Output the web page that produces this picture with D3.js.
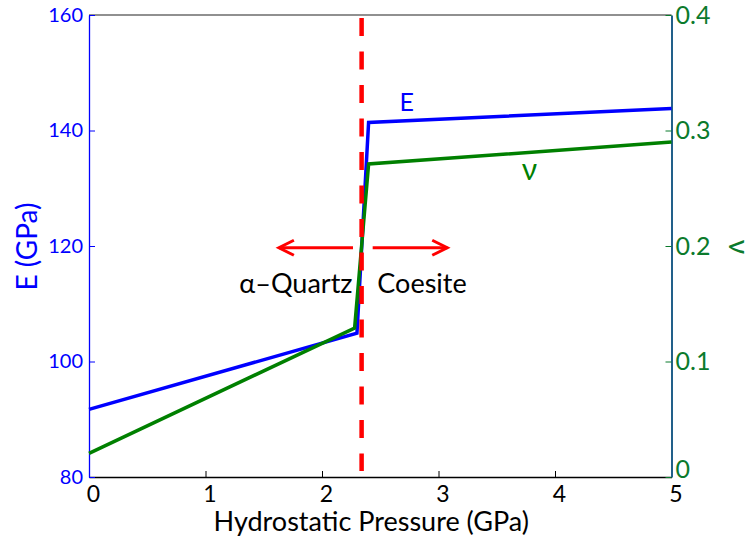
<!DOCTYPE html>
<html>
<head>
<meta charset="utf-8">
<script src="https://cdn.jsdelivr.net/npm/d3@7"></script>
<style>
  html, body { margin: 0; padding: 0; background: #fff; }
  svg { display: block; }
  text { font-family: Lato, "Open Sans", sans-serif; }
</style>
</head>
<body>
<svg id="chart" width="749" height="541"></svg>
<script>
// Young's modulus and Poisson's ratio of SiO2 vs hydrostatic pressure
const pressureE = [0, 2.30, 2.40, 5];
const modulusE = [91.7, 104.9, 141.4, 143.8];
const pressureNu = [0, 2.28, 2.40, 5];
const poissonNu = [0.0205, 0.129, 0.271, 0.290];
const transitionP = 2.34;

const xTicks = [0, 1, 2, 3, 4, 5];
const eTicks = [80, 100, 120, 140, 160];
const nuTicks = [0, 0.1, 0.2, 0.3, 0.4];

const W = 749, H = 541;
const m = { left: 89, right: 77.5, top: 15, bottom: 64 };
const pw = W - m.left - m.right, ph = H - m.top - m.bottom;

const blue = "#0000ff", green = "#008000", greenText = "#0b7a2c";
const serif = "'Liberation Serif', 'DejaVu Serif', serif";

const svg = d3.select("#chart");
const g = svg.append("g").attr("transform", `translate(${m.left},${m.top})`);

const x = d3.scaleLinear().domain([0, 5]).range([0, pw]);
const yE = d3.scaleLinear().domain([80, 160]).range([ph, 0]);
const yNu = d3.scaleLinear().domain([0, 0.4]).range([ph, 0]);

// top border
g.append("line").attr("x1", 0).attr("x2", pw).attr("y1", 0).attr("y2", 0)
  .attr("stroke", "#222").attr("stroke-width", 1.2);

// bottom axis
const xAxis = g.append("g").attr("transform", `translate(0,${ph})`)
  .call(d3.axisBottom(x).tickValues(xTicks).tickFormat(d3.format("d"))
    .tickSizeInner(-6).tickSizeOuter(0).tickPadding(9));
xAxis.select(".domain").attr("stroke", "#000").attr("stroke-width", 1.3);
xAxis.selectAll(".tick line").attr("stroke", "#000");
xAxis.selectAll("text").attr("font-size", 23).attr("fill", "#000")
  .attr("font-family", "Lato, sans-serif").attr("dx", 4);

// left axis (E)
const leftAxis = g.append("g")
  .call(d3.axisLeft(yE).tickValues(eTicks).tickFormat(d3.format("d"))
    .tickSizeInner(-6).tickSizeOuter(0).tickPadding(6));
leftAxis.select(".domain").attr("stroke", blue).attr("stroke-width", 1.3);
leftAxis.selectAll(".tick line").attr("stroke", blue);
leftAxis.selectAll("text").attr("font-size", 20).attr("fill", blue)
  .attr("font-family", "Lato, sans-serif");

// right axis (nu)
const rightAxis = g.append("g").attr("transform", `translate(${pw},0)`)
  .call(d3.axisRight(yNu).tickValues(nuTicks).tickFormat(d => d === 0 ? "0" : d3.format(".1f")(d))
    .tickSizeInner(-6).tickSizeOuter(0).tickPadding(4));
rightAxis.select(".domain").attr("stroke", "#22608a").attr("stroke-width", 2);
rightAxis.selectAll(".tick line").attr("stroke", greenText);
rightAxis.selectAll("text").attr("font-size", 25).attr("fill", greenText)
  .attr("font-family", "Lato, sans-serif");
rightAxis.selectAll(".tick").filter(d => d === 0).select("text").attr("dy", "0.02em");

// data lines
const lineE = d3.line().x((d, i) => x(pressureE[i])).y(d => yE(d));
const lineNu = d3.line().x((d, i) => x(pressureNu[i])).y(d => yNu(d));

g.append("path").datum(modulusE).attr("d", lineE)
  .attr("fill", "none").attr("stroke", blue).attr("stroke-width", 3.5)
  .attr("stroke-linejoin", "miter");
g.append("path").datum(poissonNu).attr("d", lineNu)
  .attr("fill", "none").attr("stroke", green).attr("stroke-width", 3.5)
  .attr("stroke-linejoin", "miter");

// phase transition marker
g.append("line")
  .attr("x1", x(transitionP)).attr("x2", x(transitionP))
  .attr("y1", 3).attr("y2", ph - 6)
  .attr("stroke", "#ff0000").attr("stroke-width", 4.5)
  .attr("stroke-dasharray", "18 15.5");

// direction arrows
const arrowY = yE(119.7);
function arrow(x0, x1) {
  const dir = Math.sign(x1 - x0);
  const a = g.append("g").attr("stroke", "#ff0000").attr("stroke-width", 3)
    .attr("fill", "none").attr("stroke-linecap", "butt");
  a.append("line").attr("x1", x0).attr("x2", x1).attr("y1", arrowY).attr("y2", arrowY);
  a.append("path").attr("d",
    `M${x1 - dir * 15},${arrowY - 7.5} L${x1},${arrowY} L${x1 - dir * 15},${arrowY + 7.5}`)
    .attr("stroke-linejoin", "miter");
}
arrow(x(2.266), x(1.630));
arrow(x(2.435), x(3.075));

// phase labels
g.append("text").attr("x", x(1.29)).attr("y", yE(104.9) - 40.5)
  .attr("font-size", 27).attr("fill", "#000").text("α–Quartz");
g.append("text").attr("x", x(2.475)).attr("y", yE(104.9) - 40.5)
  .attr("font-size", 27).attr("fill", "#000").text("Coesite");

// series labels
g.append("text").attr("x", x(2.665)).attr("y", yE(141.4) - 11)
  .attr("font-size", 25).attr("fill", blue).text("E");
g.append("text").attr("x", x(3.715)).attr("y", yNu(0.271) - 2 + 18)
  .attr("font-size", 30).attr("fill", green)
  .attr("font-family", serif).text("ν");

// axis titles
svg.append("text").attr("x", m.left + pw / 2 - 9).attr("y", 531)
  .attr("text-anchor", "middle").attr("font-size", 27).attr("fill", "#000")
  .text("Hydrostatic Pressure (GPa)");
svg.append("text")
  .attr("transform", `translate(37,246.5) rotate(-90)`)
  .attr("text-anchor", "middle").attr("font-size", 28).attr("fill", blue)
  .text("E (GPa)");
svg.append("text")
  .attr("transform", `translate(729,247) rotate(90)`)
  .attr("text-anchor", "middle").attr("font-size", 28).attr("fill", greenText)
  .attr("font-family", serif)
  .text("ν");
</script>
</body>
</html>
